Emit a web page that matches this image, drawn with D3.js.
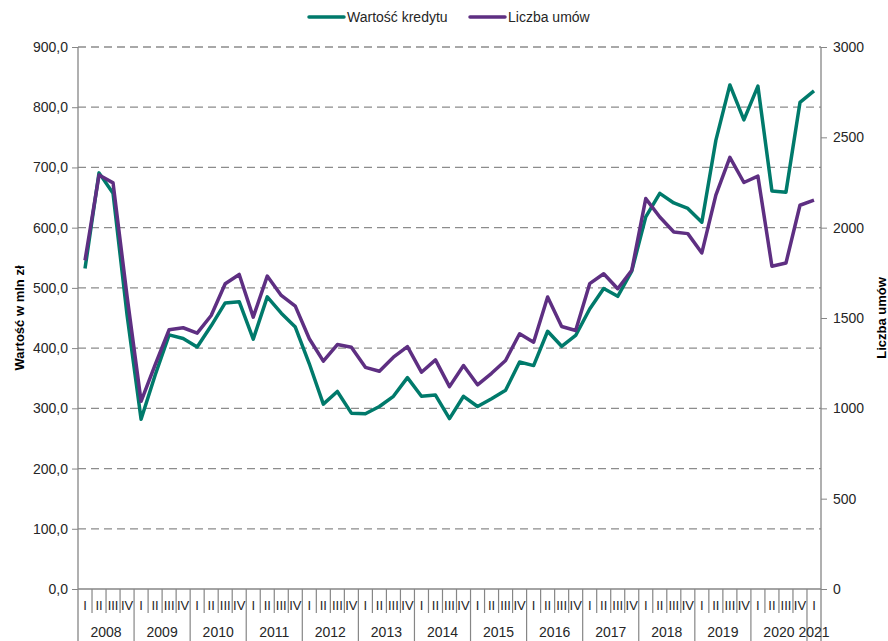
<!DOCTYPE html>
<html>
<head>
<meta charset="utf-8">
<script src="https://cdn.jsdelivr.net/npm/d3@7"></script>
<style>
  body { margin: 0; background: #fff; }
  svg { font-family: "Liberation Sans", Arial, sans-serif; }
</style>
</head>
<body>
<svg width="888" height="641"></svg>
<script>
// data, quarterly 2008 I - 2021 I
const years = [2008, 2009, 2010, 2011, 2012, 2013, 2014, 2015, 2016, 2017, 2018, 2019, 2020, 2021];
const quarters = ["I", "II", "III", "IV"];
const wartosc = [532, 691, 657, 455, 282, 355, 422, 416, 402, 437, 475, 477, 415, 485, 458, 435,
  374, 307, 328, 292, 291, 303, 320, 351, 320, 322, 283, 320, 303, 316, 330, 377,
  371, 428, 403, 421, 465, 499, 486, 528, 618, 657, 641, 632, 609, 745, 837, 779,
  835, 661, 659, 808, 827];
const liczba = [1819, 2291, 2248, 1620, 1039, 1240, 1435, 1446, 1416, 1514, 1690, 1741, 1505, 1732, 1625, 1566,
  1385, 1261, 1353, 1338, 1227, 1205, 1283, 1342, 1200, 1268, 1120, 1237, 1130, 1194, 1265, 1413,
  1366, 1616, 1453, 1431, 1690, 1745, 1662, 1764, 2161, 2059, 1976, 1967, 1860, 2180, 2389, 2250,
  2285, 1786, 1804, 2124, 2152];
const leftTicks = [0, 100, 200, 300, 400, 500, 600, 700, 800, 900];
const rightTicks = [0, 500, 1000, 1500, 2000, 2500, 3000];

// categories built from years x quarters (2021 only has I)
const cats = [];
years.forEach(y => {
  const qs = y === 2021 ? ["I"] : quarters;
  qs.forEach(q => cats.push({ year: y, q: q, key: y + "-" + q }));
});

const svg = d3.select("svg");
const margin = { top: 47, right: 67, bottom: 52, left: 78 };
const width = +svg.attr("width");
const height = +svg.attr("height");
const innerWidth = width - margin.left - margin.right;
const innerHeight = height - margin.top - margin.bottom;

const axisColor = "#868686";
const textColor = "#262626";
const green = "#007a6b";
const purple = "#5e2f82";

const g = svg.append("g").attr("transform", `translate(${margin.left},${margin.top})`);

const xScale = d3.scaleBand().domain(cats.map(d => d.key)).range([0, innerWidth]);
const yLeft = d3.scaleLinear().domain([0, 900]).range([innerHeight, 0]);
const yRight = d3.scaleLinear().domain([0, 3000]).range([innerHeight, 0]);

// gridlines
g.append("g").selectAll("line").data(leftTicks.filter(d => d > 0)).enter().append("line")
  .attr("x1", 0).attr("x2", innerWidth)
  .attr("y1", d => yLeft(d)).attr("y2", d => yLeft(d))
  .attr("stroke", "#8c8c8c").attr("stroke-width", 1.3).attr("stroke-dasharray", "8,5");

// left axis
const leftAxis = d3.axisLeft(yLeft).tickValues(leftTicks).tickSize(6).tickPadding(4)
  .tickFormat(d => d3.format(".1f")(d).replace(".", ","));
const la = g.append("g").call(leftAxis);
la.select(".domain").remove();
la.selectAll("line").attr("stroke", axisColor);
la.selectAll("text").attr("fill", textColor).style("font-size", "14px");

// right axis
const rightAxis = d3.axisRight(yRight).tickValues(rightTicks).tickSize(6).tickPadding(6)
  .tickFormat(d3.format("d"));
const ra = g.append("g").attr("transform", `translate(${innerWidth},0)`).call(rightAxis);
ra.select(".domain").remove();
ra.selectAll("line").attr("stroke", axisColor);
ra.selectAll("text").attr("fill", textColor).style("font-size", "14px");

// axis lines
g.append("line").attr("x1", 0).attr("x2", 0).attr("y1", 0).attr("y2", innerHeight + 52)
  .attr("stroke", axisColor).attr("stroke-width", 1.3);
g.append("line").attr("x1", innerWidth).attr("x2", innerWidth).attr("y1", 0).attr("y2", innerHeight + 52)
  .attr("stroke", axisColor).attr("stroke-width", 1.3);
g.append("line").attr("x1", 0).attr("x2", innerWidth).attr("y1", innerHeight).attr("y2", innerHeight)
  .attr("stroke", axisColor).attr("stroke-width", 1.3);

// category axis: quarter separators and labels
const xa = g.append("g").attr("transform", `translate(0,${innerHeight})`);
xa.selectAll(".qsep").data(cats.slice(1)).enter().append("line")
  .attr("x1", d => xScale(d.key)).attr("x2", d => xScale(d.key))
  .attr("y1", 0).attr("y2", d => d.q === "I" ? 52 : 24)
  .attr("stroke", axisColor).attr("stroke-width", 1.2);
xa.selectAll(".qlab").data(cats).enter().append("text")
  .attr("x", d => xScale(d.key) + xScale.bandwidth() / 2)
  .attr("y", 21)
  .attr("text-anchor", "middle")
  .attr("fill", textColor).style("font-size", "13px")
  .text(d => d.q);
xa.selectAll(".ylab").data(years).enter().append("text")
  .attr("x", y => {
    const ks = cats.filter(c => c.year === y);
    const x0 = xScale(ks[0].key);
    const x1 = xScale(ks[ks.length - 1].key) + xScale.bandwidth();
    return (x0 + x1) / 2;
  })
  .attr("y", 48)
  .attr("text-anchor", "middle")
  .attr("fill", textColor).style("font-size", "14px")
  .text(y => y);

// lines
const lineLeft = d3.line().x((d, i) => xScale(cats[i].key) + xScale.bandwidth() / 2).y(d => yLeft(d));
const lineRight = d3.line().x((d, i) => xScale(cats[i].key) + xScale.bandwidth() / 2).y(d => yRight(d));
g.append("path").datum(wartosc).attr("d", lineLeft)
  .attr("fill", "none").attr("stroke", green).attr("stroke-width", 3.5).attr("stroke-linejoin", "round");
g.append("path").datum(liczba).attr("d", lineRight)
  .attr("fill", "none").attr("stroke", purple).attr("stroke-width", 3.5).attr("stroke-linejoin", "round");

// axis titles
svg.append("text").attr("transform", `translate(24,${margin.top + innerHeight / 2}) rotate(-90)`)
  .attr("text-anchor", "middle").attr("fill", "#000").style("font-size", "13px").style("font-weight", "bold")
  .text("Wartość w mln zł");
svg.append("text").attr("transform", `translate(886,${margin.top + innerHeight / 2}) rotate(-90)`)
  .attr("text-anchor", "middle").attr("fill", "#000").style("font-size", "13px").style("font-weight", "bold")
  .text("Liczba umów");

// legend
const legendItems = [
  { name: "Wartość kredytu", color: green, x: 309 },
  { name: "Liczba umów", color: purple, x: 470 }
];
const lg = svg.append("g").selectAll("g").data(legendItems).enter().append("g")
  .attr("transform", d => `translate(${d.x},17)`);
lg.append("line").attr("x1", 0).attr("x2", 35).attr("y1", 0).attr("y2", 0)
  .attr("stroke", d => d.color).attr("stroke-width", 3.5).attr("stroke-linecap", "round");
lg.append("text").attr("x", 38).attr("y", 5).attr("fill", textColor).style("font-size", "14px")
  .text(d => d.name);
</script>
</body>
</html>
